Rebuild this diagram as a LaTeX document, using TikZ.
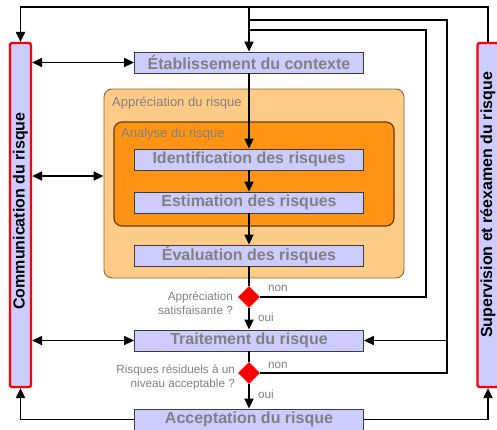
\documentclass[tikz,border=0pt]{standalone}
\usepackage{fontspec}
\setmainfont{Liberation Sans}
\usetikzlibrary{arrows.meta,shapes.geometric}
\definecolor{lav}{RGB}{204,204,255}
\definecolor{txtgray}{RGB}{128,128,128}
\definecolor{boxborder}{RGB}{60,60,60}
\definecolor{applight}{RGB}{255,204,136}
\definecolor{appborder}{RGB}{130,100,60}
\definecolor{anaorange}{RGB}{255,148,20}
\definecolor{anaborder}{RGB}{100,60,10}
\begin{document}
\begin{tikzpicture}[x=1pt,y=1pt,
  box/.style={draw=boxborder, line width=0.9pt, fill=lav, minimum width=229pt, minimum height=21pt, inner sep=0pt, font=\fontsize{16}{16}\selectfont\bfseries, text=txtgray},
  bar/.style={draw=red, line width=2.2pt, fill=lav, rounded corners=1.5pt, minimum width=21pt, minimum height=344pt, inner sep=0pt},
  bartext/.style={rotate=90, inner sep=0pt, font=\fontsize{16}{16}\selectfont\bfseries, text=black},
  cont/.style={inner sep=0pt, font=\fontsize{13}{13}\selectfont, text=txtgray},
  small/.style={inner sep=0pt, font=\fontsize{11.7}{14}\selectfont, text=txtgray},
  dec/.style={diamond, fill=red, minimum width=22pt, minimum height=22pt, inner sep=0pt},
  conn/.style={draw=black, line width=1.9pt},
  arr/.style={conn, -{Triangle[length=10pt,width=9pt]}},
  darr/.style={conn, {Triangle[length=10pt,width=9pt]}-{Triangle[length=10pt,width=9pt]}}
]
\useasboundingbox (0,0) rectangle (497,-429);
% containers
\node[draw=appborder, line width=0.9pt, fill=applight, rounded corners=8pt, minimum width=300pt, minimum height=189pt, inner sep=0pt] (apprec) at (254,-183.5) {};
\node[draw=anaborder, line width=1.2pt, fill=anaorange, rounded corners=8pt, minimum width=280pt, minimum height=104pt, inner sep=0pt] (analyse) at (254,-174) {};
\node[cont, anchor=west] (lapp) at (112,-103) {Appréciation du risque};
\node[cont, anchor=west] (lana) at (121,-134) {Analyse du risque};
% side bars
\node[bar] (leftbar) at (20.5,-215) {};
\node[bar] (rightbar) at (488,-215) {};
\node[bartext] (lbtext) at (20.5,-211) {Communication du risque};
\node[bartext] (rbtext) at (488,-205) {Supervision et réexamen du risque};
% boxes
\node[box] (etab) at (249,-62.5) {Établissement du contexte};
\node[box] (ident) at (249,-159.5) {Identification des risques};
\node[box] (estim) at (249,-202.5) {Estimation des risques};
\node[box] (eval) at (249,-255.5) {Évaluation des risques};
\node[box] (trait) at (249,-340.5) {Traitement du risque};
\node[box] (accept) at (249,-419.5) {Acceptation du risque};
% decisions
\node[dec] (d1) at (249,-297) {};
\node[dec] (d2) at (249,-373) {};
\node[small, anchor=east, align=right] (q1) at (233,-303) {Appréciation\\satisfaisante ?};
\node[small, anchor=east, align=right] (q2) at (235,-377.5) {Risques résiduels à un\\niveau acceptable ?};
\node[small, anchor=west] (non1) at (268,-288) {non};
\node[small, anchor=west] (oui1) at (258,-317) {oui};
\node[small, anchor=west] (non2) at (268,-365) {non};
\node[small, anchor=west] (oui2) at (258,-394) {oui};
% helper coordinates
\coordinate (t1) at (249,-7);
\coordinate (t2) at (249,-20);
\coordinate (t3) at (249,-30);
\coordinate (r2) at (447,-20);
\coordinate (r2b) at (447,-340.5);
\coordinate (r3) at (426,-30);
\coordinate (ca) at (104,-176);
% connectors
\draw[arr] (rightbar.north) |- (t1) -| (leftbar.north);
\draw[arr] (t1) -- (etab.north);
\draw[conn] (d2.east) -| (r2) -- (t2);
\draw[arr] (r2b) -- (trait.east);
\draw[conn] (d1.east) -| (r3) -- (t3);
\draw[arr] (etab.south) -- (ident.north);
\draw[arr] (ident.south) -- (estim.north);
\draw[arr] (estim.south) -- (eval.north);
\draw[conn] (eval.south) -- (d1.north);
\draw[arr] (d1.south) -- (trait.north);
\draw[conn] (trait.south) -- (d2.north);
\draw[arr] (d2.south) -- (accept.north);
\draw[arr] (accept.east) -| (rightbar.south);
\draw[arr] (accept.west) -| (leftbar.south);
\draw[darr] (leftbar.east |- etab.west) -- (etab.west);
\draw[darr] (leftbar.east |- ca) -- (apprec.west |- ca);
\draw[darr] (leftbar.east |- trait.west) -- (trait.west);
\end{tikzpicture}
\end{document}
